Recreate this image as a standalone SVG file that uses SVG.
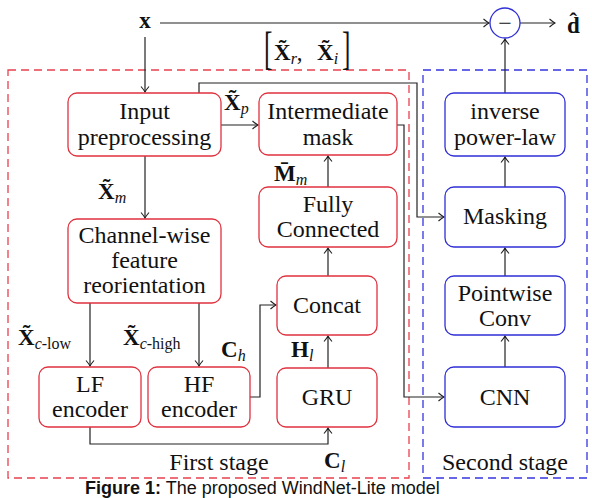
<svg xmlns="http://www.w3.org/2000/svg" width="592" height="498" viewBox="0 0 592 498">
<defs>
<style>
.bx{fill:#fff;stroke-width:1.3}
.r{stroke:#e0323f}
.b{stroke:#2f2fd6}
.t{font-family:"Liberation Serif","Times New Roman",serif;font-size:24px;text-anchor:middle;fill:#111}
.m{font-family:"Liberation Serif","Times New Roman",serif;font-size:23px;font-weight:bold;fill:#111}
.s{font-size:16px;font-style:italic;font-weight:normal}
.n{font-style:normal}
.c{fill:none;stroke:#222;stroke-width:1.2}
.a{marker-end:url(#ah)}
.dr{fill:none;stroke:#e8404f;stroke-width:1.3;stroke-dasharray:8 5}
.db{fill:none;stroke:#3535e0;stroke-width:1.3;stroke-dasharray:8 5}
.cap{font-family:"Liberation Sans",Arial,sans-serif;font-size:18px;fill:#111}
</style>
<marker id="ah" viewBox="-7 -5 8 10" refX="0" refY="0" markerWidth="8" markerHeight="10" markerUnits="userSpaceOnUse" orient="auto"><path d="M-5.5,-4 Q-2,-1 0,0 Q-2,1 -5.5,4" fill="none" stroke="#222" stroke-width="1.1"/></marker>
</defs>
<rect width="592" height="498" fill="#fff"/>
<g id="stages">
<rect class="dr" x="8" y="70" width="401" height="408"/>
<rect class="db" x="423" y="70" width="164" height="408"/>
<text class="t" x="219" y="470">First stage</text>
<text class="t" x="505" y="470">Second stage</text>
</g>
<g id="connectors">
<path class="c a" d="M160,23 H489"/>
<path class="c a" d="M520,23 H555"/>
<path class="c a" d="M145,37 V92"/>
<path class="c a" d="M221,125 H258"/>
<path class="c a" d="M199,93 V83 H417 V217 H444"/>
<path class="c a" d="M397,125 H404 V397 H444"/>
<path class="c a" d="M145,156 V218"/>
<path class="c a" d="M90,303 V366"/>
<path class="c a" d="M199,303 V366"/>
<path class="c a" d="M250,397 H260 V305 H276"/>
<path class="c a" d="M90,427 V444 H328 V428"/>
<path class="c a" d="M328,368 V336"/>
<path class="c a" d="M328,276 V248"/>
<path class="c a" d="M328,187 V156"/>
<path class="c a" d="M505,367 V336"/>
<path class="c a" d="M505,276 V248"/>
<path class="c a" d="M505,187 V157"/>
<path class="c a" d="M505,93 V39"/>
</g>
<g id="labels">
<text class="m" x="145" y="28" text-anchor="middle" font-size="25">x</text>
<text class="m" x="567" y="33" font-size="25">d&#x302;</text>
<text x="0" y="0" transform="translate(264,64) scale(0.55,1)" font-family="Liberation Serif,serif" font-size="46" fill="#111">[</text>
<text x="0" y="0" transform="translate(342,64) scale(0.55,1)" font-family="Liberation Serif,serif" font-size="46" fill="#111">]</text>
<text class="m" x="274" y="60">X&#x303;<tspan class="s" dy="4">r</tspan><tspan font-weight="normal" dy="-4">,</tspan></text>
<text class="m" x="317" y="60">X&#x303;<tspan class="s" dy="4">i</tspan></text>
<text class="m" x="224" y="110">X&#x303;<tspan class="s" dy="4">p</tspan></text>
<text class="m" x="98" y="199">X&#x303;<tspan class="s" dy="4">m</tspan></text>
<text class="m" x="18" y="345">X&#x303;<tspan class="s" dy="4">c<tspan class="n">-low</tspan></tspan></text>
<text class="m" x="123" y="345">X&#x303;<tspan class="s" dy="4">c<tspan class="n">-high</tspan></tspan></text>
<text class="m" x="221" y="357">C<tspan class="s" dy="4">h</tspan></text>
<text class="m" x="291" y="357">H<tspan class="s" dy="4">l</tspan></text>
<text class="m" x="274" y="181">M&#x304;<tspan class="s" dy="4">m</tspan></text>
<text class="m" x="324" y="468">C<tspan class="s" dy="4">l</tspan></text>
</g>
<g id="sum">
<circle cx="505" cy="23" r="15" fill="#fff" stroke="#2f2fd6" stroke-width="1.3"/>
<text class="t" x="505" y="31" font-size="22">−</text>
</g>
<g id="input">
<rect class="bx r" x="68" y="93" width="153" height="63" rx="9"/>
<text class="t" x="144.5" y="119">Input</text>
<text class="t" x="144.5" y="145">preprocessing</text>
</g>
<g id="channel">
<rect class="bx r" x="68" y="219" width="153" height="84" rx="9"/>
<text class="t" x="144.5" y="243">Channel-wise</text>
<text class="t" x="144.5" y="268">feature</text>
<text class="t" x="144.5" y="293">reorientation</text>
</g>
<g id="lf">
<rect class="bx r" x="39" y="367" width="102" height="60" rx="9"/>
<text class="t" x="90" y="392">LF</text>
<text class="t" x="90" y="417">encoder</text>
</g>
<g id="hf">
<rect class="bx r" x="148" y="367" width="102" height="60" rx="9"/>
<text class="t" x="199" y="392">HF</text>
<text class="t" x="199" y="417">encoder</text>
</g>
<g id="gru">
<rect class="bx r" x="277" y="368" width="100" height="59" rx="9"/>
<text class="t" x="327" y="405">GRU</text>
</g>
<g id="concat">
<rect class="bx r" x="277" y="276" width="100" height="59" rx="9"/>
<text class="t" x="327" y="313">Concat</text>
</g>
<g id="fc">
<rect class="bx r" x="259" y="187" width="138" height="60" rx="9"/>
<text class="t" x="328" y="212">Fully</text>
<text class="t" x="328" y="237">Connected</text>
</g>
<g id="imask">
<rect class="bx r" x="259" y="93" width="138" height="62" rx="9"/>
<text class="t" x="328" y="119">Intermediate</text>
<text class="t" x="328" y="145">mask</text>
</g>
<g id="invpow">
<rect class="bx b" x="445" y="93" width="120" height="63" rx="9"/>
<text class="t" x="505" y="119">inverse</text>
<text class="t" x="505" y="145">power-law</text>
</g>
<g id="masking">
<rect class="bx b" x="445" y="187" width="120" height="60" rx="9"/>
<text class="t" x="505" y="224">Masking</text>
</g>
<g id="pointwise">
<rect class="bx b" x="445" y="276" width="120" height="59" rx="9"/>
<text class="t" x="505" y="301">Pointwise</text>
<text class="t" x="505" y="326">Conv</text>
</g>
<g id="cnn">
<rect class="bx b" x="445" y="367" width="120" height="60" rx="9"/>
<text class="t" x="505" y="405">CNN</text>
</g>
<text class="cap" x="85" y="494"><tspan font-weight="bold">Figure 1:</tspan> The proposed WindNet-Lite model</text>
</svg>
